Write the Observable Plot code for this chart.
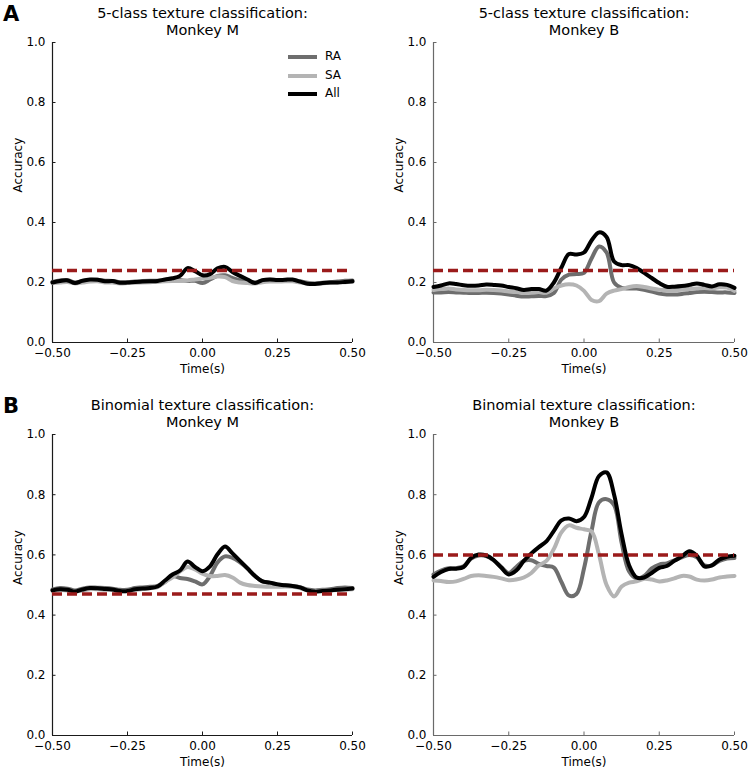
<!DOCTYPE html>
<html>
<head>
<meta charset="utf-8">
<script src="https://cdn.jsdelivr.net/npm/d3@7"></script>
<script src="https://cdn.jsdelivr.net/npm/@observablehq/plot@0.6"></script>
<style>
  html, body { margin: 0; padding: 0; background: #fff; }
  #root { position: relative; width: 750px; height: 768px; font-family: "DejaVu Sans", sans-serif; }
  .panel { position: absolute; }
  .tag { position: absolute; font-weight: bold; font-size: 21px; line-height: 21px; color: #000; }
  .legend { position: absolute; font-size: 12px; color: #000; }
  .legend .row { position: absolute; left: 0; height: 18px; width: 60px; }
  .legend svg { position: absolute; left: 0; top: 0; }
  .legend span { position: absolute; left: 38px; top: 1px; }
</style>
</head>
<body>
<div id="root"></div>
<script>
// ---------- data ----------
const time = [-0.5,-0.475,-0.45,-0.425,-0.4,-0.375,-0.35,-0.325,-0.3,-0.275,-0.25,-0.225,-0.2,-0.175,-0.15,-0.125,-0.1,-0.075,-0.05,-0.025,0,0.025,0.05,0.075,0.1,0.125,0.15,0.175,0.2,0.225,0.25,0.275,0.3,0.325,0.35,0.375,0.4,0.425,0.45,0.475,0.5];

const seriesNames = ["RA", "SA", "All"];
const seriesColors = ["#6e6e6e", "#b4b4b4", "#000000"];

// 5-class, Monkey M
const m5RA  = [0.202,0.207,0.208,0.200,0.205,0.208,0.209,0.206,0.205,0.201,0.201,0.203,0.205,0.206,0.206,0.208,0.210,0.208,0.205,0.206,0.198,0.210,0.222,0.224,0.215,0.208,0.205,0.200,0.207,0.209,0.208,0.208,0.208,0.204,0.199,0.197,0.199,0.201,0.203,0.206,0.207];
const m5SA  = [0.198,0.200,0.202,0.197,0.200,0.203,0.204,0.200,0.200,0.197,0.198,0.199,0.200,0.201,0.202,0.204,0.205,0.205,0.207,0.210,0.213,0.216,0.220,0.218,0.205,0.200,0.198,0.197,0.201,0.203,0.203,0.204,0.204,0.200,0.197,0.196,0.197,0.199,0.200,0.201,0.202];
const m5All = [0.200,0.205,0.207,0.198,0.206,0.210,0.209,0.204,0.205,0.199,0.200,0.202,0.203,0.204,0.205,0.210,0.214,0.222,0.248,0.238,0.224,0.228,0.247,0.252,0.235,0.222,0.210,0.198,0.208,0.210,0.208,0.209,0.210,0.203,0.196,0.195,0.198,0.200,0.200,0.202,0.204];

// 5-class, Monkey B
const b5RA  = [0.167,0.167,0.168,0.167,0.166,0.165,0.165,0.166,0.165,0.163,0.160,0.156,0.153,0.154,0.155,0.155,0.165,0.210,0.226,0.228,0.232,0.280,0.320,0.300,0.200,0.182,0.180,0.180,0.176,0.170,0.163,0.160,0.160,0.162,0.165,0.168,0.169,0.168,0.167,0.167,0.165];
const b5SA  = [0.175,0.178,0.180,0.177,0.175,0.174,0.174,0.176,0.175,0.173,0.170,0.168,0.166,0.167,0.168,0.166,0.180,0.190,0.194,0.190,0.172,0.142,0.138,0.163,0.173,0.178,0.185,0.188,0.185,0.180,0.176,0.175,0.175,0.176,0.178,0.180,0.182,0.180,0.184,0.183,0.172];
const b5All = [0.185,0.190,0.197,0.195,0.191,0.189,0.190,0.193,0.192,0.190,0.185,0.181,0.175,0.178,0.178,0.173,0.200,0.250,0.295,0.293,0.300,0.340,0.367,0.352,0.270,0.258,0.258,0.248,0.232,0.215,0.198,0.186,0.186,0.188,0.192,0.197,0.192,0.187,0.194,0.192,0.182];

// Binomial, Monkey M
const m2RA  = [0.485,0.490,0.488,0.482,0.488,0.492,0.491,0.490,0.488,0.484,0.484,0.490,0.492,0.494,0.497,0.510,0.530,0.523,0.520,0.512,0.502,0.530,0.575,0.595,0.590,0.575,0.555,0.530,0.512,0.507,0.502,0.499,0.497,0.493,0.485,0.482,0.484,0.486,0.490,0.492,0.490];
const m2SA  = [0.480,0.483,0.482,0.478,0.482,0.486,0.486,0.484,0.483,0.479,0.480,0.484,0.487,0.489,0.493,0.510,0.525,0.545,0.560,0.552,0.538,0.530,0.530,0.533,0.525,0.508,0.500,0.497,0.495,0.494,0.494,0.495,0.494,0.490,0.482,0.480,0.481,0.482,0.483,0.485,0.486];
const m2All = [0.482,0.486,0.484,0.478,0.485,0.490,0.489,0.487,0.485,0.480,0.480,0.486,0.488,0.490,0.495,0.515,0.535,0.548,0.578,0.560,0.546,0.562,0.602,0.628,0.605,0.580,0.555,0.530,0.512,0.508,0.502,0.499,0.497,0.492,0.482,0.478,0.480,0.482,0.484,0.486,0.488];

// Binomial, Monkey B
const b2RA  = [0.535,0.548,0.556,0.556,0.562,0.588,0.598,0.596,0.582,0.560,0.540,0.560,0.580,0.582,0.570,0.563,0.558,0.510,0.465,0.470,0.555,0.680,0.775,0.785,0.765,0.640,0.545,0.522,0.530,0.555,0.568,0.572,0.582,0.592,0.600,0.592,0.565,0.565,0.580,0.588,0.590];
const b2SA  = [0.515,0.513,0.510,0.512,0.520,0.530,0.532,0.530,0.527,0.522,0.516,0.518,0.525,0.540,0.565,0.580,0.620,0.675,0.698,0.690,0.685,0.678,0.600,0.500,0.462,0.495,0.508,0.512,0.521,0.518,0.512,0.515,0.522,0.530,0.528,0.518,0.515,0.518,0.525,0.528,0.530];
const b2All = [0.527,0.543,0.553,0.554,0.560,0.590,0.601,0.598,0.583,0.558,0.535,0.548,0.580,0.605,0.626,0.645,0.680,0.715,0.721,0.712,0.726,0.790,0.862,0.874,0.800,0.668,0.565,0.525,0.525,0.540,0.557,0.563,0.580,0.595,0.612,0.597,0.562,0.565,0.585,0.594,0.597];

// chance levels
const chanceM5 = 0.24, chanceB5 = 0.24, chanceM2 = 0.47, chanceB2 = 0.60;

// ticks and labels
const xTicks = [-0.5, -0.25, 0, 0.25, 0.5];
const yTicks = [0, 0.2, 0.4, 0.6, 0.8, 1.0];
const titlesTop = ["5-class texture classification:", "5-class texture classification:", "Binomial texture classification:", "Binomial texture classification:"];
const titlesBottom = ["Monkey M", "Monkey B", "Monkey M", "Monkey B"];
const xLabel = "Time(s)";
const yLabel = "Accuracy";
const panelTags = ["A", "B"];

// ---------- drawing ----------
function rows(ra, sa, all) {
  const out = [];
  [ra, sa, all].forEach((arr, k) => {
    arr.forEach((v, i) => out.push({t: time[i], v, s: seriesNames[k]}));
  });
  return out;
}

function makePanel({data, chance, titleTop, titleBottom, spine, mLeft, mRight, mTop, mBottom, height}) {
  const marks = [];
  // spines
  marks.push(Plot.ruleX([-0.5], {stroke: spine, strokeWidth: 1.2}));
  marks.push(Plot.ruleY([0], {stroke: spine, strokeWidth: 1.2}));
  // inward tick marks
  marks.push(Plot.axisX({ticks: xTicks, tickSize: 3.5, dy: -3.5, anchor: "bottom", tickFormat: () => "", label: null, stroke: spine}));
  marks.push(Plot.axisY({ticks: yTicks, tickSize: 3.5, dx: 3.5, anchor: "left", tickFormat: () => "", label: null, stroke: spine}));
  // tick labels
  marks.push(Plot.axisX({ticks: xTicks, tickSize: 0, tickPadding: 6, anchor: "bottom", tickFormat: d3.format(".2f"), label: null, fontSize: 12, fill: "#000"}));
  marks.push(Plot.axisY({ticks: yTicks, tickSize: 0, tickPadding: 7, anchor: "left", tickFormat: d3.format(".1f"), label: null, fontSize: 12, fill: "#000"}));
  // series lines
  seriesNames.forEach((name, k) => {
    marks.push(Plot.line(data.filter(d => d.s === name), {
      x: "t", y: "v", stroke: seriesColors[k], strokeWidth: 4, curve: "catmull-rom",
      strokeLinejoin: "round", strokeLinecap: "round"
    }));
  });
  // chance level
  marks.push(Plot.ruleY([chance], {stroke: "#9b1b1b", strokeWidth: 3.5, strokeDasharray: "10,5"}));
  // titles & axis labels
  marks.push(Plot.text([titleTop], {frameAnchor: "top", dy: -29, fontSize: 14.5, fill: "#000", lineAnchor: "middle"}));
  marks.push(Plot.text([titleBottom], {frameAnchor: "top", dy: -12, fontSize: 14.5, fill: "#000", lineAnchor: "middle"}));
  marks.push(Plot.text([xLabel], {frameAnchor: "bottom", dy: 26.5, fontSize: 12, fill: "#000", lineAnchor: "middle"}));
  marks.push(Plot.text([yLabel], {frameAnchor: "left", dx: -34, rotate: -90, fontSize: 12, fill: "#000", lineAnchor: "middle"}));

  return Plot.plot({
    width: 375,
    height,
    marginLeft: mLeft, marginRight: mRight, marginTop: mTop, marginBottom: mBottom,
    x: {domain: [-0.5, 0.5], axis: null},
    y: {domain: [0, 1], axis: null},
    style: {fontFamily: "DejaVu Sans, sans-serif", fontSize: "12px", background: "#fff", overflow: "visible"},
    marks
  });
}

const root = document.getElementById("root");
const panels = [
  {left: 0,   top: 0,   data: rows(m5RA, m5SA, m5All), chance: chanceM5, spine: "#1a1a1a", mLeft: 52, mRight: 23, mTop: 42, mBottom: 43, height: 385},
  {left: 375, top: 0,   data: rows(b5RA, b5SA, b5All), chance: chanceB5, spine: "#6a6a6a", mLeft: 58, mRight: 16, mTop: 42, mBottom: 43, height: 385},
  {left: 0,   top: 385, data: rows(m2RA, m2SA, m2All), chance: chanceM2, spine: "#1a1a1a", mLeft: 52, mRight: 23, mTop: 49, mBottom: 33, height: 383},
  {left: 375, top: 385, data: rows(b2RA, b2SA, b2All), chance: chanceB2, spine: "#6a6a6a", mLeft: 58, mRight: 16, mTop: 49, mBottom: 33, height: 383}
];
panels.forEach((p, i) => {
  const div = document.createElement("div");
  div.className = "panel";
  div.style.left = p.left + "px";
  div.style.top = p.top + "px";
  div.appendChild(makePanel({...p, titleTop: titlesTop[i], titleBottom: titlesBottom[i]}));
  root.appendChild(div);
});

// panel tags
[[3, 4], [3, 396]].forEach(([x, y], i) => {
  const t = document.createElement("div");
  t.className = "tag";
  t.style.left = x + "px"; t.style.top = y + "px";
  t.textContent = panelTags[i];
  root.appendChild(t);
});

// legend (in panel A, Monkey M)
const legend = document.createElement("div");
legend.className = "legend";
legend.style.left = "287px"; legend.style.top = "48px";
seriesNames.forEach((name, k) => {
  const row = document.createElement("div");
  row.className = "row";
  row.style.top = (k * 18.5) + "px";
  row.innerHTML = `<svg width="32" height="18"><line x1="1" x2="30" y1="9" y2="9" stroke="${seriesColors[k]}" stroke-width="4"/></svg><span>${name}</span>`;
  legend.appendChild(row);
});
root.appendChild(legend);
</script>
</body>
</html>
